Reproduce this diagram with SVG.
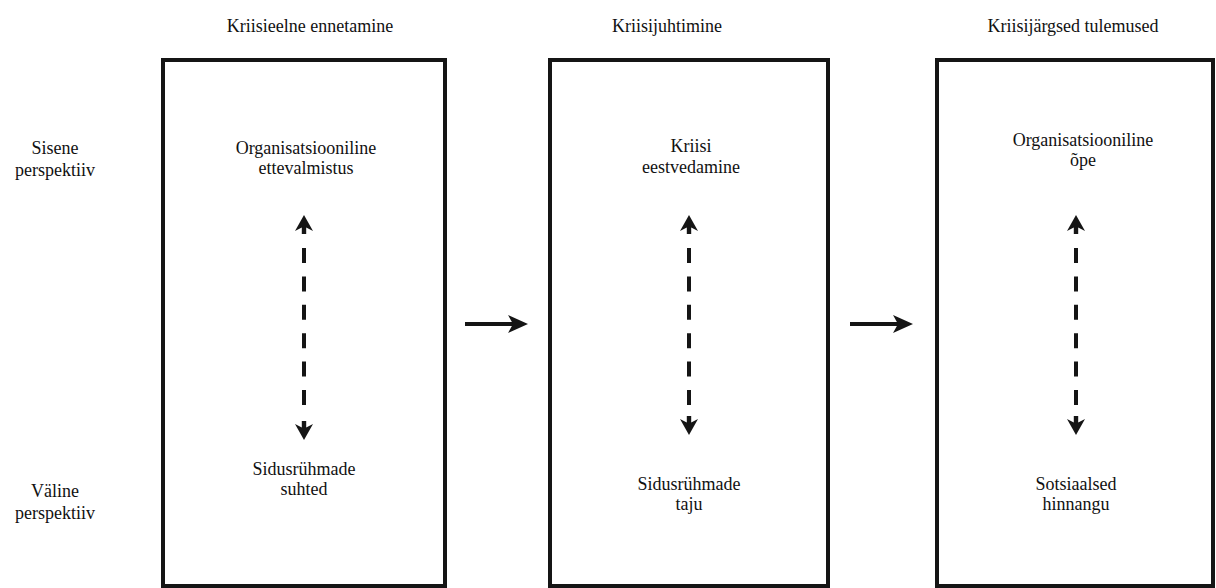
<svg xmlns="http://www.w3.org/2000/svg" xmlns:xlink="http://www.w3.org/1999/xlink" width="1216" height="588" viewBox="0 0 1216 588" font-family="'Liberation Serif', 'DejaVu Serif', serif">
<style>
text{font-family:'Liberation Serif','DejaVu Serif',serif;font-size:18px;fill:#111;text-anchor:middle}
.box{fill:#fff;stroke:#151515;stroke-width:4}
.dash{stroke:#151515;stroke-width:4;stroke-dasharray:15 13.4;fill:none}
.solid{stroke:#151515;stroke-width:4;fill:none}
.head{fill:#151515}
</style>
<defs>
<path id="vhead" class="head" d="M0,0 L9,16 L2.2,12.5 L2.2,19 L-2.2,19 L-2.2,12.5 L-9,16 Z"/>
<path id="hhead" class="head" d="M0,0 L-20,-9 L-15,0 L-20,9 Z"/>
</defs>
<rect width="1216" height="588" fill="#fff"/>
<g id="labels">
<text x="310" y="32">Kriisieelne ennetamine</text>
<text x="667" y="32">Kriisijuhtimine</text>
<text x="1073" y="32">Kriisijärgsed tulemused</text>
<text x="55" y="154">Sisene</text>
<text x="55" y="176">perspektiiv</text>
<text x="55" y="497">Väline</text>
<text x="55" y="519">perspektiiv</text>
</g>
<g id="box1">
<rect class="box" x="163" y="60" width="282" height="526"/>
<text x="306" y="154">Organisatsiooniline</text>
<text x="306" y="174">ettevalmistus</text>
<text x="304" y="475">Sidusrühmade</text>
<text x="304" y="495">suhted</text>
</g>
<g id="box2">
<rect class="box" x="550" y="60" width="278" height="526"/>
<text x="691" y="152">Kriisi</text>
<text x="691" y="173">eestvedamine</text>
<text x="689" y="490">Sidusrühmade</text>
<text x="689" y="510">taju</text>
</g>
<g id="box3">
<rect class="box" x="937" y="60" width="276" height="526"/>
<text x="1083" y="146">Organisatsiooniline</text>
<text x="1083" y="166">õpe</text>
<text x="1076" y="490">Sotsiaalsed</text>
<text x="1076" y="510">hinnangu</text>
</g>
<g id="connectors">
<line class="dash" x1="304" y1="248" x2="304" y2="410"/>
<use xlink:href="#vhead" transform="translate(304,215)"/>
<use xlink:href="#vhead" transform="translate(304,440) rotate(180)"/>
<line class="dash" x1="689" y1="248" x2="689" y2="405"/>
<use xlink:href="#vhead" transform="translate(689,215)"/>
<use xlink:href="#vhead" transform="translate(689,435) rotate(180)"/>
<line class="dash" x1="1076" y1="248" x2="1076" y2="405"/>
<use xlink:href="#vhead" transform="translate(1076,215)"/>
<use xlink:href="#vhead" transform="translate(1076,435) rotate(180)"/>
<line class="solid" x1="465" y1="324" x2="514" y2="324"/>
<use xlink:href="#hhead" transform="translate(528,324)"/>
<line class="solid" x1="850" y1="324" x2="899" y2="324"/>
<use xlink:href="#hhead" transform="translate(913,324)"/>
</g>
</svg>
